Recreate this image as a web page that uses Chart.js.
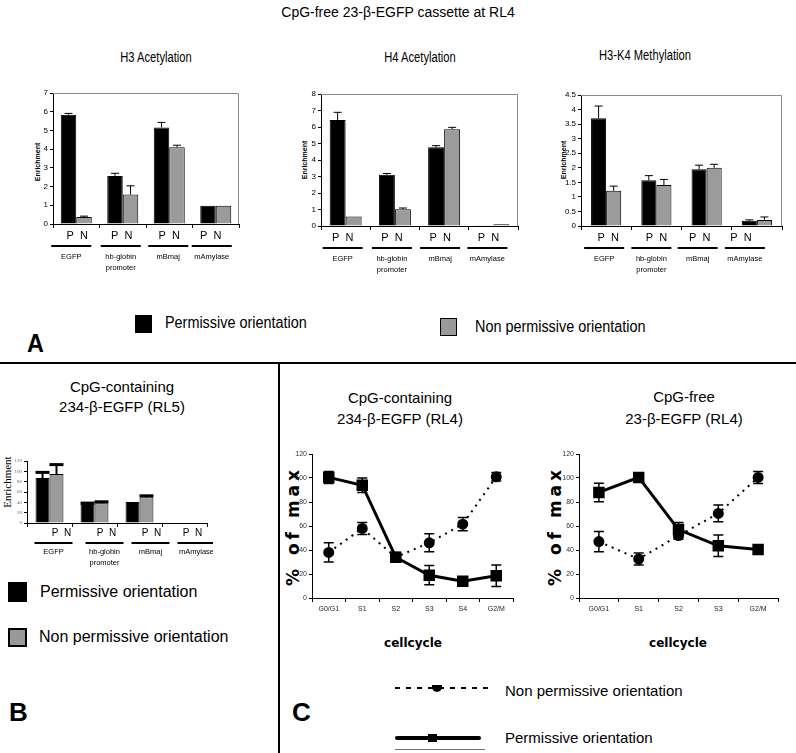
<!DOCTYPE html>
<html>
<head>
<meta charset="utf-8">
<script src="https://cdn.jsdelivr.net/npm/chart.js@4.4.1/dist/chart.umd.min.js"></script>
<style>
  body { margin: 0; width: 796px; height: 753px; position: relative; overflow: hidden; background: #fff;
         font-family: "Liberation Sans", Arial, sans-serif; color: #000; }
  canvas { position: absolute; }
  .t { position: absolute; white-space: nowrap; line-height: 1; }
  .c { transform: translate(-50%, -50%); }
  .l { transform: translateY(-50%); }
  .nc { transform: translate(-50%, -50%) scaleX(0.8); }
  .nl { transform: translateY(-50%) scaleX(0.9); transform-origin: left center; }
  .rot { transform: translate(-50%, -50%) rotate(-90deg); }
  .box { position: absolute; box-sizing: border-box; }
</style>
</head>
<body>

<!-- texts -->
<div class="t c" style="left:398px;top:12px;font-size:14px">CpG-free 23-β-EGFP cassette at RL4</div>
<div class="t nc" style="left:156px;top:57px;font-size:14px">H3 Acetylation</div>
<div class="t nc" style="left:420px;top:57px;font-size:14px">H4 Acetylation</div>
<div class="t nc" style="left:645px;top:55px;font-size:14px">H3-K4 Methylation</div>

<div class="t rot" style="left:37px;top:162px;font-size:7px;font-weight:bold">Enrichment</div>
<div class="t rot" style="left:304px;top:160px;font-size:7px;font-weight:bold">Enrichment</div>
<div class="t rot" style="left:563px;top:160px;font-size:7px;font-weight:bold">Enrichment</div>

<div class="box" style="left:135px;top:315px;width:17px;height:18px;background:#000"></div>
<div class="t nl" style="left:165px;top:323px;font-size:16px">Permissive orientation</div>
<div class="box" style="left:440px;top:318px;width:17px;height:18px;background:#999;border:1.5px solid #000"></div>
<div class="t nl" style="left:475px;top:327px;font-size:16px">Non permissive orientation</div>
<div class="t nl" style="left:27px;top:343px;font-size:26px;font-weight:bold">A</div>

<div class="box" style="left:0;top:362px;width:796px;height:2px;background:#000"></div>
<div class="box" style="left:278px;top:362px;width:2px;height:391px;background:#000"></div>

<div class="t c" style="left:122px;top:386px;font-size:15px">CpG-containing</div>
<div class="t c" style="left:122px;top:406px;font-size:15px">234-β-EGFP (RL5)</div>
<div class="t rot" style="left:7px;top:482px;font-size:11px;font-family:'Liberation Serif',serif">Enrichment</div>

<div class="box" style="left:8px;top:582px;width:19px;height:20px;background:#000"></div>
<div class="t l" style="left:40px;top:592px;font-size:16px">Permissive orientation</div>
<div class="box" style="left:8px;top:628px;width:19px;height:19px;background:#999;border:2px solid #000"></div>
<div class="t l" style="left:39px;top:637px;font-size:16px">Non permissive orientation</div>
<div class="t l" style="left:9px;top:712px;font-size:26px;font-weight:bold">B</div>

<div class="t c" style="left:400px;top:397px;font-size:15px">CpG-containing</div>
<div class="t c" style="left:400px;top:418px;font-size:15px">234-β-EGFP (RL4)</div>
<div class="t c" style="left:684px;top:396px;font-size:15px">CpG-free</div>
<div class="t c" style="left:684px;top:418px;font-size:15px">23-β-EGFP (RL4)</div>

<div class="t rot" style="left:293px;top:526px;font-size:17px;font-weight:bold;letter-spacing:4px;font-family:'DejaVu Sans',sans-serif">% of max</div>
<div class="t rot" style="left:555px;top:526px;font-size:17px;font-weight:bold;letter-spacing:4px;font-family:'DejaVu Sans',sans-serif">% of max</div>
<div class="t c" style="left:413px;top:643px;font-size:12px;font-weight:bold;font-family:'DejaVu Sans',sans-serif">cellcycle</div>
<div class="t c" style="left:678px;top:643px;font-size:12px;font-weight:bold;font-family:'DejaVu Sans',sans-serif">cellcycle</div>

<div class="box" style="left:395px;top:687px;width:93px;height:2px;background:repeating-linear-gradient(90deg,#000 0 5px,transparent 5px 11px)"></div>
<div class="box" style="left:432px;top:685px;width:10px;height:7px;background:#000;border-radius:0 0 5px 5px"></div>
<div class="t l" style="left:505px;top:690px;font-size:15px">Non permissive orientation</div>
<div class="box" style="left:395px;top:736px;width:86px;height:4px;background:#000;border-radius:2px"></div>
<div class="box" style="left:428px;top:734px;width:9px;height:8px;background:#000"></div>
<div class="t l" style="left:505px;top:737px;font-size:15px">Permissive orientation</div>
<div class="box" style="left:395px;top:749px;width:90px;height:1px;background:#777"></div>
<div class="t l" style="left:292px;top:712px;font-size:26px;font-weight:bold">C</div>

<canvas id="h3ac"></canvas>
<canvas id="h4ac"></canvas>
<canvas id="h3k4"></canvas>
<canvas id="rl5"></canvas>
<canvas id="cycCpg"></canvas>
<canvas id="cycFree"></canvas>

<script>
// ---- data ----
const barCats = [["EGFP"], ["hb-globin", "promoter"], ["mBmaj"], ["mAmylase"]];

const h3AcP = [5.84, 2.57, 5.16, 0.98];
const h3AcPErr = [0.07, 0.14, 0.27, 0];
const h3AcN = [0.37, 1.57, 4.1, 0.98];
const h3AcNErr = [0.05, 0.47, 0.11, 0];

const h4AcP = [6.42, 3.1, 4.77, 0.05];
const h4AcPErr = [0.47, 0.08, 0.1, 0];
const h4AcN = [0.57, 1.02, 5.86, 0.1];
const h4AcNErr = [0, 0.07, 0.12, 0];

const h3k4P = [3.7, 1.57, 1.95, 0.18];
const h3k4PErr = [0.42, 0.16, 0.14, 0.03];
const h3k4N = [1.21, 1.41, 2.0, 0.21];
const h3k4NErr = [0.16, 0.19, 0.12, 0.1];

const rl5P = [87, 37, 40.7, 1];
const rl5PErr = [11, 1.5, 0, 0];
const rl5N = [95, 38, 49.6, 1];
const rl5NErr = [18, 3, 3, 0];

const phasesCpg = ["G0/G1", "S1", "S2", "S3", "S4", "G2/M"];
const permCpg = [100.5, 94, 34, 19, 14, 18.5];
const permCpgErr = [5, 6, 4, 8, 3, 9];
const nonCpg = [38, 58, 34, 46, 61.5, 101];
const nonCpgErr = [8, 5, 3, 7.5, 5.5, 3.5];

const phasesFree = ["G0/G1", "S1", "S2", "S3", "G2/M"];
const permFree = [88, 100.5, 57, 43.5, 40.5];
const permFreeErr = [7.7, 2, 6, 9, 2.5];
const nonFree = [47, 32.5, 52, 70.5, 100.5];
const nonFreeErr = [8.4, 5, 3, 7, 5];

// ---- plugins ----
const errorBars = {
  id: "errorBars",
  afterDatasetsDraw(chart) {
    const ctx = chart.ctx, y = chart.scales.y;
    chart.data.datasets.forEach((ds, i) => {
      if (!ds.errs) return;
      chart.getDatasetMeta(i).data.forEach((el, j) => {
        const e = ds.errs[j];
        if (!e) return;
        const v = ds.data[j];
        const top = y.getPixelForValue(v + e);
        const bot = ds.twoSided ? y.getPixelForValue(v - e) : el.y;
        const c = ds.capSize || 4;
        ctx.save();
        ctx.strokeStyle = "#000";
        ctx.lineWidth = ds.errWidth || 1;
        ctx.beginPath();
        ctx.moveTo(el.x, bot);
        ctx.lineTo(el.x, top);
        ctx.stroke();
        ctx.lineWidth = ds.capWidth || 1;
        ctx.beginPath();
        ctx.moveTo(el.x - c, top);
        ctx.lineTo(el.x + c, top);
        if (ds.twoSided) {
          ctx.moveTo(el.x - c, bot);
          ctx.lineTo(el.x + c, bot);
        }
        ctx.stroke();
        ctx.restore();
      });
    });
  }
};

// grey box on top and right of the A charts
const frame = {
  id: "frame",
  afterDraw(chart, args, o) {
    if (!o.show) return;
    const a = chart.chartArea, ctx = chart.ctx;
    ctx.save();
    ctx.strokeStyle = "#8a8a8a";
    ctx.lineWidth = 1;
    ctx.beginPath();
    ctx.moveTo(a.left, a.top + 0.5);
    ctx.lineTo(a.right - 0.5, a.top + 0.5);
    ctx.lineTo(a.right - 0.5, a.bottom);
    ctx.stroke();
    ctx.restore();
  }
};

// "P N", underline and region name below each group
const under = {
  id: "under",
  afterDraw(chart, args, o) {
    const ctx = chart.ctx, x = chart.scales.x, zero = chart.chartArea.bottom;
    chart.data.labels.forEach((lab, i) => {
      const cx = x.getPixelForValue(i);
      const lx = cx + o.lineShift[i];
      ctx.save();
      ctx.fillStyle = "#000";
      ctx.strokeStyle = "#000";
      ctx.textAlign = "center";
      ctx.textBaseline = "middle";
      ctx.font = o.pnFont;
      ctx.fillText("P  N", cx + o.pnShift[i], zero + o.dy[0]);
      ctx.lineWidth = 2;
      ctx.beginPath();
      ctx.moveTo(lx - o.half, zero + o.dy[1]);
      ctx.lineTo(lx + o.half, zero + o.dy[1]);
      ctx.stroke();
      ctx.font = o.nameFont;
      lab.forEach((t, k) => ctx.fillText(t, lx, zero + o.dy[2] + k * o.dy[3]));
      ctx.restore();
    });
  }
};

function place(id, axisX, topY, zeroY, rightX, yW, padT, padR, xH) {
  const c = document.getElementById(id);
  c.width = rightX - axisX + yW + padR;
  c.height = zeroY - topY + padT + xH;
  c.style.left = (axisX - yW) + "px";
  c.style.top = (topY - padT) + "px";
  return c;
}

function barChart(id, g, p, pErr, n, nErr, ax) {
  const yW = 22, padT = 8, padR = 6, xH = 56;
  const canvas = place(id, g.x, g.top, g.zero, g.right, yW, padT, padR, xH);
  return new Chart(canvas, {
    type: "bar",
    data: {
      labels: barCats,
      datasets: [
        { data: p, errs: pErr, backgroundColor: "#000", borderColor: "#000", borderWidth: 1,
          categoryPercentage: ax.cat, barPercentage: 1, capSize: ax.cap, capWidth: ax.capW, errWidth: ax.errW },
        { data: n, errs: nErr, backgroundColor: "#9b9b9b", borderColor: "#000", borderWidth: 1,
          categoryPercentage: ax.cat, barPercentage: 1, capSize: ax.cap, capWidth: ax.capW, errWidth: ax.errW }
      ]
    },
    options: {
      responsive: false,
      animation: false,
      devicePixelRatio: 1,
      events: [],
      layout: { padding: { top: padT, right: padR, left: 0, bottom: 0 } },
      plugins: {
        legend: { display: false },
        tooltip: { enabled: false },
        frame: { show: ax.frame },
        under: ax.under
      },
      scales: {
        x: {
          grid: { drawOnChartArea: false, offset: true, tickLength: 4, color: "#000" },
          border: { color: "#000" },
          ticks: { display: false },
          afterFit: s => { s.height = xH; }
        },
        y: {
          min: 0, max: ax.max,
          ticks: { stepSize: ax.step, color: ax.tickColor, padding: 2,
                   font: { size: ax.tickSize, family: ax.tickFamily },
                   callback: v => String(+v.toFixed(1)) },
          grid: { drawOnChartArea: false, tickLength: 3, color: "#000" },
          border: { color: "#000" },
          afterFit: s => { s.width = yW; }
        }
      }
    },
    plugins: [errorBars, frame, under]
  });
}

const aFont = { pnFont: "11px 'Liberation Sans', Arial", nameFont: "7.5px 'Liberation Sans', Arial",
                dy: [12, 22, 33, 11], half: 20 };

barChart("h3ac", { x: 53, top: 93, zero: 224, right: 239 }, h3AcP, h3AcPErr, h3AcN, h3AcNErr,
  { max: 7, step: 1, cat: 0.667, cap: 4, capW: 1, errW: 1, frame: true, tickSize: 8, tickColor: "#000",
    tickFamily: "'Liberation Sans', Arial",
    under: Object.assign({ pnShift: [1, -1, 0, -5], lineShift: [-5, -2, -1, -4] }, aFont) });

barChart("h4ac", { x: 321, top: 94, zero: 226, right: 518 }, h4AcP, h4AcPErr, h4AcN, h4AcNErr,
  { max: 8, step: 1, cat: 0.65, cap: 4, capW: 1, errW: 1, frame: true, tickSize: 8, tickColor: "#000",
    tickFamily: "'Liberation Sans', Arial",
    under: Object.assign({ pnShift: [-3, -3, -4, -5], lineShift: [-3, -3, -4, -6] }, aFont) });

barChart("h3k4", { x: 581, top: 95, zero: 226, right: 782 }, h3k4P, h3k4PErr, h3k4N, h3k4NErr,
  { max: 4.5, step: 0.5, cat: 0.6, cap: 4, capW: 1, errW: 1, frame: true, tickSize: 8, tickColor: "#000",
    tickFamily: "'Liberation Sans', Arial",
    under: Object.assign({ pnShift: [2, 0, -7, -16], lineShift: [-2, -5, -9, -12] }, aFont) });

barChart("rl5", { x: 27, top: 461, zero: 523, right: 207 }, rl5P, rl5PErr, rl5N, rl5NErr,
  { max: 120, step: 20, cat: 0.62, cap: 7, capW: 3, errW: 2, frame: false, tickSize: 5, tickColor: "#666",
    tickFamily: "'Liberation Serif', serif",
    under: { pnShift: [12, 12, 12, 8], lineShift: [4, 10, 11, 12], pnFont: "10px 'Liberation Sans', Arial",
             nameFont: "7.5px 'Liberation Sans', Arial", dy: [10, 20, 29, 11], half: 19 } });

function cycleChart(id, g, phases, perm, permErr, non, nonErr) {
  const yW = 22, padT = 8, padR = 10, xH = 22;
  const canvas = place(id, g.x, g.top, g.zero, g.right, yW, padT, padR, xH);
  return new Chart(canvas, {
    type: "line",
    data: {
      labels: phases,
      datasets: [
        { data: non, errs: nonErr, twoSided: true, capSize: 5, errWidth: 1.5, capWidth: 1.5,
          borderColor: "#000", borderWidth: 2, borderDash: [2, 5], tension: 0,
          pointStyle: "circle", pointRadius: 4.5, pointBackgroundColor: "#000", pointBorderColor: "#000" },
        { data: perm, errs: permErr, twoSided: true, capSize: 5, errWidth: 1.5, capWidth: 1.5,
          borderColor: "#000", borderWidth: 3, tension: 0,
          pointStyle: "rect", pointRadius: 6, pointBackgroundColor: "#000", pointBorderColor: "#000" }
      ]
    },
    options: {
      responsive: false,
      animation: false,
      devicePixelRatio: 1,
      events: [],
      layout: { padding: { top: padT, right: padR, left: 0, bottom: 0 } },
      plugins: { legend: { display: false }, tooltip: { enabled: false } },
      scales: {
        x: {
          offset: true,
          grid: { drawOnChartArea: false, offset: true, tickLength: 4, color: "#000" },
          border: { color: "#000" },
          ticks: { color: "#222", padding: 3, font: { size: 7, family: "'Liberation Sans', Arial" } },
          afterFit: s => { s.height = xH; }
        },
        y: {
          min: 0, max: 120,
          ticks: { stepSize: 20, color: "#333", padding: 2, font: { size: 7, family: "'Liberation Sans', Arial" } },
          grid: { drawOnChartArea: false, tickLength: 3, color: "#000" },
          border: { color: "#000" },
          afterFit: s => { s.width = yW; }
        }
      }
    },
    plugins: [errorBars]
  });
}

cycleChart("cycCpg", { x: 312, top: 453, zero: 598, right: 513 }, phasesCpg, permCpg, permCpgErr, nonCpg, nonCpgErr);
cycleChart("cycFree", { x: 579, top: 453, zero: 598, right: 778 }, phasesFree, permFree, permFreeErr, nonFree, nonFreeErr);
</script>
</body>
</html>
